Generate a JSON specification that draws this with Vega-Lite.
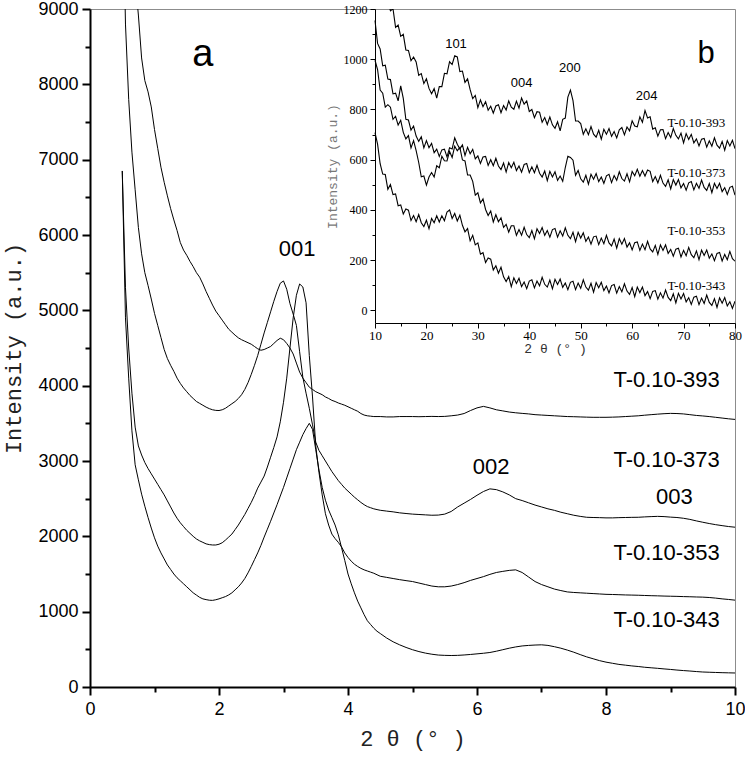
{
"$schema": "https://vega.github.io/schema/vega-lite/v6.json",
"width": 645, "height": 678,
"autosize": {"type": "none"},
"padding": {"left": 90, "top": 9, "right": 10, "bottom": 72},
"background": "white",
"config": {"view": {"stroke": "#8c8c8c", "strokeWidth": 1}, "axis": {"grid": false}},
"datasets": {
"main": [
{"t":0.5,"s393":11500,"s373":11000,"s353":6850,"s343":6850},
{"t":0.55,"s393":10900,"s373":8800,"s353":5300,"s343":4900},
{"t":0.6,"s393":10300,"s373":7800,"s353":4500,"s343":4100},
{"t":0.65,"s393":9850,"s373":7100,"s353":3900,"s343":3400},
{"t":0.7,"s393":9400,"s373":6600,"s353":3450,"s343":2950},
{"t":0.75,"s393":8920,"s373":6100,"s353":3200,"s343":2750},
{"t":0.8,"s393":8350,"s373":5750,"s353":3080,"s343":2560},
{"t":0.85,"s393":8050,"s373":5500,"s353":2980,"s343":2400},
{"t":0.9,"s393":7900,"s373":5330,"s353":2900,"s343":2250},
{"t":0.95,"s393":7700,"s373":5150,"s353":2830,"s343":2110},
{"t":1.0,"s393":7400,"s373":4960,"s353":2760,"s343":1980},
{"t":1.05,"s393":7150,"s373":4800,"s353":2690,"s343":1870},
{"t":1.1,"s393":6900,"s373":4640,"s353":2620,"s343":1780},
{"t":1.15,"s393":6700,"s373":4480,"s353":2550,"s343":1700},
{"t":1.2,"s393":6520,"s373":4360,"s353":2470,"s343":1620},
{"t":1.25,"s393":6350,"s373":4270,"s353":2390,"s343":1560},
{"t":1.3,"s393":6200,"s373":4190,"s353":2310,"s343":1500},
{"t":1.35,"s393":6060,"s373":4100,"s353":2240,"s343":1450},
{"t":1.4,"s393":5900,"s373":4030,"s353":2180,"s343":1410},
{"t":1.45,"s393":5800,"s373":3970,"s353":2130,"s343":1370},
{"t":1.5,"s393":5730,"s373":3920,"s353":2080,"s343":1330},
{"t":1.55,"s393":5650,"s373":3870,"s353":2040,"s343":1290},
{"t":1.6,"s393":5580,"s373":3830,"s353":2000,"s343":1250},
{"t":1.65,"s393":5500,"s373":3790,"s353":1965,"s343":1220},
{"t":1.7,"s393":5440,"s373":3765,"s353":1940,"s343":1190},
{"t":1.75,"s393":5350,"s373":3740,"s353":1920,"s343":1170},
{"t":1.8,"s393":5250,"s373":3715,"s353":1900,"s343":1160},
{"t":1.85,"s393":5160,"s373":3695,"s353":1890,"s343":1152},
{"t":1.9,"s393":5070,"s373":3680,"s353":1885,"s343":1150},
{"t":1.95,"s393":4990,"s373":3672,"s353":1885,"s343":1158},
{"t":2.0,"s393":4930,"s373":3670,"s353":1895,"s343":1170},
{"t":2.05,"s393":4870,"s373":3680,"s353":1915,"s343":1185},
{"t":2.1,"s393":4810,"s373":3700,"s353":1950,"s343":1200},
{"t":2.15,"s393":4750,"s373":3730,"s353":1990,"s343":1222},
{"t":2.2,"s393":4710,"s373":3760,"s353":2030,"s343":1250},
{"t":2.25,"s393":4670,"s373":3790,"s353":2090,"s343":1290},
{"t":2.3,"s393":4635,"s373":3830,"s353":2150,"s343":1330},
{"t":2.35,"s393":4610,"s373":3880,"s353":2220,"s343":1380},
{"t":2.4,"s393":4590,"s373":3950,"s353":2290,"s343":1440},
{"t":2.45,"s393":4570,"s373":4040,"s353":2370,"s343":1515},
{"t":2.5,"s393":4550,"s373":4150,"s353":2450,"s343":1600},
{"t":2.55,"s393":4520,"s373":4270,"s353":2540,"s343":1690},
{"t":2.6,"s393":4490,"s373":4400,"s353":2640,"s343":1780},
{"t":2.65,"s393":4470,"s373":4550,"s353":2720,"s343":1880},
{"t":2.7,"s393":4480,"s373":4700,"s353":2800,"s343":1990},
{"t":2.75,"s393":4500,"s373":4840,"s353":2920,"s343":2095},
{"t":2.8,"s393":4520,"s373":4980,"s353":3050,"s343":2200},
{"t":2.85,"s393":4560,"s373":5120,"s353":3180,"s343":2310},
{"t":2.9,"s393":4600,"s373":5250,"s353":3320,"s343":2420},
{"t":2.95,"s393":4630,"s373":5360,"s353":3520,"s343":2535},
{"t":3.0,"s393":4610,"s373":5390,"s353":3780,"s343":2650},
{"t":3.05,"s393":4560,"s373":5280,"s353":4100,"s343":2775},
{"t":3.1,"s393":4500,"s373":5090,"s353":4500,"s343":2900},
{"t":3.15,"s393":4420,"s373":4950,"s353":4900,"s343":3025},
{"t":3.2,"s393":4300,"s373":4800,"s353":5200,"s343":3150},
{"t":3.25,"s393":4180,"s373":4450,"s353":5350,"s343":3250},
{"t":3.3,"s393":4100,"s373":4110,"s353":5310,"s343":3350},
{"t":3.35,"s393":4040,"s373":3900,"s353":5100,"s343":3430},
{"t":3.4,"s393":3980,"s373":3700,"s353":4400,"s343":3500},
{"t":3.45,"s393":3950,"s373":3480,"s353":3850,"s343":3420},
{"t":3.5,"s393":3920,"s373":3250,"s353":3200,"s343":3150},
{"t":3.55,"s393":3900,"s373":3140,"s353":2850,"s343":2880},
{"t":3.6,"s393":3880,"s373":3070,"s353":2550,"s343":2650},
{"t":3.65,"s393":3850,"s373":3000,"s353":2300,"s343":2480},
{"t":3.7,"s393":3830,"s373":2930,"s353":2150,"s343":2350},
{"t":3.75,"s393":3805,"s373":2860,"s353":2030,"s343":2250},
{"t":3.8,"s393":3790,"s373":2800,"s353":1970,"s343":2150},
{"t":3.85,"s393":3770,"s373":2740,"s353":1920,"s343":2020},
{"t":3.9,"s393":3755,"s373":2690,"s353":1860,"s343":1850},
{"t":3.95,"s393":3740,"s373":2640,"s353":1780,"s343":1680},
{"t":4.0,"s393":3720,"s373":2600,"s353":1720,"s343":1500},
{"t":4.05,"s393":3700,"s373":2560,"s353":1670,"s343":1370},
{"t":4.1,"s393":3680,"s373":2520,"s353":1630,"s343":1250},
{"t":4.15,"s393":3660,"s373":2485,"s353":1600,"s343":1140},
{"t":4.2,"s393":3630,"s373":2450,"s353":1575,"s343":1050},
{"t":4.25,"s393":3610,"s373":2420,"s353":1555,"s343":960},
{"t":4.3,"s393":3600,"s373":2395,"s353":1540,"s343":880},
{"t":4.35,"s393":3595,"s373":2380,"s353":1525,"s343":830},
{"t":4.4,"s393":3590,"s373":2365,"s353":1510,"s343":780},
{"t":4.45,"s393":3590,"s373":2355,"s353":1490,"s343":740},
{"t":4.5,"s393":3590,"s373":2346,"s353":1470,"s343":710},
{"t":4.6,"s393":3585,"s373":2335,"s353":1455,"s343":650},
{"t":4.7,"s393":3585,"s373":2325,"s353":1440,"s343":600},
{"t":4.8,"s393":3590,"s373":2312,"s353":1425,"s343":560},
{"t":4.9,"s393":3590,"s373":2303,"s353":1412,"s343":525},
{"t":5.0,"s393":3590,"s373":2295,"s353":1400,"s343":495},
{"t":5.1,"s393":3588,"s373":2290,"s353":1380,"s343":470},
{"t":5.2,"s393":3590,"s373":2285,"s353":1360,"s343":450},
{"t":5.3,"s393":3592,"s373":2280,"s353":1340,"s343":435},
{"t":5.4,"s393":3590,"s373":2282,"s353":1330,"s343":424},
{"t":5.5,"s393":3592,"s373":2295,"s353":1330,"s343":420},
{"t":5.6,"s393":3600,"s373":2330,"s353":1340,"s343":418},
{"t":5.7,"s393":3610,"s373":2390,"s353":1360,"s343":420},
{"t":5.8,"s393":3630,"s373":2440,"s353":1385,"s343":425},
{"t":5.9,"s393":3670,"s373":2490,"s353":1415,"s343":432},
{"t":6.0,"s393":3705,"s373":2545,"s353":1440,"s343":440},
{"t":6.1,"s393":3725,"s373":2595,"s353":1465,"s343":448},
{"t":6.2,"s393":3705,"s373":2630,"s353":1495,"s343":458},
{"t":6.3,"s393":3680,"s373":2620,"s353":1520,"s343":475},
{"t":6.4,"s393":3665,"s373":2590,"s353":1535,"s343":495},
{"t":6.5,"s393":3650,"s373":2550,"s353":1548,"s343":515},
{"t":6.6,"s393":3640,"s373":2500,"s353":1555,"s343":532},
{"t":6.7,"s393":3632,"s373":2475,"s353":1520,"s343":545},
{"t":6.8,"s393":3625,"s373":2445,"s353":1460,"s343":552},
{"t":6.9,"s393":3615,"s373":2415,"s353":1400,"s343":557},
{"t":7.0,"s393":3610,"s373":2390,"s353":1360,"s343":560},
{"t":7.1,"s393":3605,"s373":2365,"s353":1330,"s343":552},
{"t":7.2,"s393":3600,"s373":2345,"s353":1300,"s343":535},
{"t":7.3,"s393":3595,"s373":2320,"s353":1280,"s343":515},
{"t":7.4,"s393":3590,"s373":2300,"s353":1262,"s343":490},
{"t":7.5,"s393":3588,"s373":2280,"s353":1255,"s343":462},
{"t":7.6,"s393":3585,"s373":2265,"s353":1250,"s343":430},
{"t":7.7,"s393":3582,"s373":2253,"s353":1245,"s343":400},
{"t":7.8,"s393":3580,"s373":2250,"s353":1240,"s343":375},
{"t":7.9,"s393":3580,"s373":2248,"s353":1235,"s343":350},
{"t":8.0,"s393":3580,"s373":2245,"s353":1230,"s343":330},
{"t":8.1,"s393":3582,"s373":2245,"s353":1228,"s343":315},
{"t":8.2,"s393":3585,"s373":2248,"s353":1225,"s343":300},
{"t":8.3,"s393":3590,"s373":2250,"s353":1222,"s343":290},
{"t":8.4,"s393":3595,"s373":2252,"s353":1220,"s343":280},
{"t":8.5,"s393":3600,"s373":2253,"s353":1218,"s343":272},
{"t":8.6,"s393":3608,"s373":2258,"s353":1215,"s343":262},
{"t":8.7,"s393":3615,"s373":2262,"s353":1212,"s343":255},
{"t":8.8,"s393":3622,"s373":2265,"s353":1210,"s343":248},
{"t":8.9,"s393":3628,"s373":2262,"s353":1207,"s343":240},
{"t":9.0,"s393":3632,"s373":2255,"s353":1205,"s343":233},
{"t":9.1,"s393":3630,"s373":2250,"s353":1203,"s343":225},
{"t":9.2,"s393":3625,"s373":2240,"s353":1200,"s343":218},
{"t":9.3,"s393":3615,"s373":2225,"s353":1198,"s343":212},
{"t":9.4,"s393":3605,"s373":2205,"s353":1195,"s343":205},
{"t":9.5,"s393":3598,"s373":2187,"s353":1193,"s343":199},
{"t":9.6,"s393":3590,"s373":2170,"s353":1188,"s343":196},
{"t":9.7,"s393":3580,"s373":2155,"s353":1180,"s343":193},
{"t":9.8,"s393":3570,"s373":2142,"s353":1170,"s343":190},
{"t":9.9,"s393":3560,"s373":2130,"s353":1162,"s343":188},
{"t":10.0,"s393":3552,"s373":2121,"s353":1153,"s343":186}
],
"inset": [
{"t":10,"s393":1514,"s373":1154,"s353":996,"s343":708},
{"t":10.5,"s393":1421,"s373":1063,"s353":959,"s343":662},
{"t":11,"s393":1388,"s373":1041,"s353":877,"s343":584},
{"t":11.5,"s393":1318,"s373":974,"s353":865,"s343":543},
{"t":12,"s393":1302,"s373":976,"s353":809,"s343":541},
{"t":12.5,"s393":1234,"s373":921,"s353":819,"s343":482},
{"t":13,"s393":1193,"s373":919,"s353":809,"s343":501},
{"t":13.5,"s393":1201,"s373":862,"s353":761,"s343":461},
{"t":14,"s393":1127,"s373":865,"s353":773,"s343":464},
{"t":14.5,"s393":1136,"s373":834,"s353":738,"s343":417},
{"t":15,"s393":1091,"s373":894,"s353":757,"s343":420},
{"t":15.5,"s393":1099,"s373":844,"s353":709,"s343":384},
{"t":16,"s393":1037,"s373":761,"s353":683,"s343":404},
{"t":16.5,"s393":1035,"s373":758,"s353":696,"s343":399},
{"t":17,"s393":994,"s373":718,"s353":647,"s343":358},
{"t":17.5,"s393":1009,"s373":734,"s353":676,"s343":378},
{"t":18,"s393":989,"s373":694,"s353":636,"s343":353},
{"t":18.5,"s393":936,"s373":673,"s353":589,"s343":382},
{"t":19,"s393":943,"s373":691,"s353":532,"s343":349},
{"t":19.5,"s393":903,"s373":647,"s353":535,"s343":334},
{"t":20,"s393":922,"s373":676,"s353":499,"s343":359},
{"t":20.5,"s393":884,"s373":648,"s353":531,"s343":325},
{"t":21,"s393":863,"s373":665,"s353":549,"s343":366},
{"t":21.5,"s393":883,"s373":628,"s353":531,"s343":349},
{"t":22,"s393":845,"s373":642,"s353":576,"s343":377},
{"t":22.5,"s393":891,"s373":613,"s353":568,"s343":352},
{"t":23,"s393":891,"s373":639,"s353":614,"s343":377},
{"t":23.5,"s393":944,"s373":642,"s353":596,"s343":357},
{"t":24,"s393":942,"s373":611,"s353":595,"s343":392},
{"t":24.5,"s393":990,"s373":648,"s353":633,"s343":400},
{"t":25,"s393":979,"s373":643,"s353":609,"s343":366},
{"t":25.5,"s393":1014,"s373":687,"s353":654,"s343":386},
{"t":26,"s393":1009,"s373":662,"s353":636,"s343":356},
{"t":26.5,"s393":951,"s373":643,"s353":649,"s343":379},
{"t":27,"s393":953,"s373":659,"s353":599,"s343":339},
{"t":27.5,"s393":908,"s373":617,"s353":595,"s343":313},
{"t":28,"s393":922,"s373":649,"s353":539,"s343":326},
{"t":28.5,"s393":879,"s373":624,"s353":539,"s343":277},
{"t":29,"s393":843,"s373":641,"s353":514,"s343":299},
{"t":29.5,"s393":856,"s373":603,"s353":459,"s343":261},
{"t":30,"s393":807,"s373":615,"s353":468,"s343":269},
{"t":30.5,"s393":838,"s373":585,"s353":428,"s343":224},
{"t":31,"s393":811,"s373":611,"s353":444,"s343":230},
{"t":31.5,"s393":831,"s373":613,"s353":402,"s343":191},
{"t":32,"s393":797,"s373":577,"s353":378,"s343":209},
{"t":32.5,"s393":813,"s373":600,"s353":396,"s343":204},
{"t":33,"s393":785,"s373":576,"s353":352,"s343":161},
{"t":33.5,"s393":814,"s373":606,"s353":381,"s343":178},
{"t":34,"s393":819,"s373":575,"s353":353,"s343":148},
{"t":34.5,"s393":787,"s373":561,"s353":369,"s343":172},
{"t":35,"s393":816,"s373":587,"s353":331,"s343":134},
{"t":35.5,"s393":798,"s373":551,"s353":343,"s343":115},
{"t":36,"s393":834,"s373":589,"s353":312,"s343":135},
{"t":36.5,"s393":809,"s373":568,"s353":337,"s343":95},
{"t":37,"s393":801,"s373":590,"s353":337,"s343":130},
{"t":37.5,"s393":833,"s373":557,"s353":299,"s343":107},
{"t":38,"s393":805,"s373":575,"s353":322,"s343":128},
{"t":38.5,"s393":846,"s373":550,"s353":299,"s343":95},
{"t":39,"s393":821,"s373":581,"s353":331,"s343":113},
{"t":39.5,"s393":834,"s373":585,"s353":302,"s343":87},
{"t":40,"s393":792,"s373":549,"s353":290,"s343":117},
{"t":40.5,"s393":800,"s373":572,"s353":318,"s343":122},
{"t":41,"s393":767,"s373":548,"s353":285,"s343":90},
{"t":41.5,"s393":791,"s373":578,"s353":325,"s343":117},
{"t":42,"s393":789,"s373":546,"s353":306,"s343":98},
{"t":42.5,"s393":749,"s373":531,"s353":330,"s343":132},
{"t":43,"s393":768,"s373":555,"s353":299,"s343":104},
{"t":43.5,"s393":740,"s373":517,"s353":318,"s343":93},
{"t":44,"s393":770,"s373":554,"s353":292,"s343":121},
{"t":44.5,"s393":739,"s373":531,"s353":322,"s343":86},
{"t":45,"s393":725,"s373":552,"s353":326,"s343":124},
{"t":45.5,"s393":751,"s373":518,"s353":292,"s343":103},
{"t":46,"s393":715,"s373":535,"s353":317,"s343":125},
{"t":46.5,"s393":761,"s373":514,"s353":296,"s343":92},
{"t":47,"s393":766,"s373":569,"s353":329,"s343":109},
{"t":47.5,"s393":849,"s373":614,"s353":299,"s343":83},
{"t":48,"s393":877,"s373":609,"s353":286,"s343":112},
{"t":48.5,"s393":835,"s373":598,"s353":311,"s343":116},
{"t":49,"s393":754,"s373":538,"s353":274,"s343":83},
{"t":49.5,"s393":754,"s373":557,"s353":311,"s343":109},
{"t":50,"s393":744,"s373":524,"s353":288,"s343":88},
{"t":50.5,"s393":701,"s373":511,"s353":309,"s343":122},
{"t":51,"s393":723,"s373":538,"s353":275,"s343":93},
{"t":51.5,"s393":700,"s373":503,"s353":292,"s343":81},
{"t":52,"s393":732,"s373":542,"s353":264,"s343":108},
{"t":52.5,"s393":702,"s373":522,"s353":293,"s343":73},
{"t":53,"s393":690,"s373":545,"s353":296,"s343":111},
{"t":53.5,"s393":717,"s373":513,"s353":262,"s343":90},
{"t":54,"s393":682,"s373":531,"s353":288,"s343":112},
{"t":54.5,"s393":721,"s373":506,"s353":266,"s343":79},
{"t":55,"s393":701,"s373":536,"s353":299,"s343":97},
{"t":55.5,"s393":724,"s373":542,"s353":269,"s343":70},
{"t":56,"s393":693,"s373":509,"s353":257,"s343":99},
{"t":56.5,"s393":712,"s373":537,"s353":284,"s343":103},
{"t":57,"s393":687,"s373":518,"s353":248,"s343":69},
{"t":57.5,"s393":719,"s373":552,"s353":286,"s343":95},
{"t":58,"s393":728,"s373":525,"s353":264,"s343":74},
{"t":58.5,"s393":699,"s373":515,"s353":286,"s343":106},
{"t":59,"s393":730,"s373":544,"s353":252,"s343":77},
{"t":59.5,"s393":715,"s373":512,"s353":269,"s343":64},
{"t":60,"s393":755,"s373":553,"s353":241,"s343":91},
{"t":60.5,"s393":734,"s373":536,"s353":270,"s343":55},
{"t":61,"s393":731,"s373":562,"s353":273,"s343":93},
{"t":61.5,"s393":771,"s373":534,"s353":239,"s343":71},
{"t":62,"s393":749,"s373":557,"s353":264,"s343":93},
{"t":62.5,"s393":796,"s373":535,"s353":242,"s343":59},
{"t":63,"s393":766,"s373":559,"s353":275,"s343":75},
{"t":63.5,"s393":771,"s373":554,"s353":245,"s343":47},
{"t":64,"s393":722,"s373":513,"s353":233,"s343":76},
{"t":64.5,"s393":727,"s373":533,"s353":259,"s343":79},
{"t":65,"s393":694,"s373":508,"s353":223,"s343":45},
{"t":65.5,"s393":719,"s373":538,"s353":261,"s343":70},
{"t":66,"s393":720,"s373":507,"s353":239,"s343":49},
{"t":66.5,"s393":684,"s373":494,"s353":261,"s343":81},
{"t":67,"s393":708,"s373":520,"s353":227,"s343":52},
{"t":67.5,"s393":688,"s373":484,"s353":243,"s343":39},
{"t":68,"s393":724,"s373":521,"s353":216,"s343":66},
{"t":68.5,"s393":697,"s373":499,"s353":244,"s343":30},
{"t":69,"s393":683,"s373":521,"s353":248,"s343":68},
{"t":69.5,"s393":706,"s373":488,"s353":213,"s343":46},
{"t":70,"s393":667,"s373":505,"s353":239,"s343":67},
{"t":70.5,"s393":704,"s373":479,"s353":218,"s343":34},
{"t":71,"s393":681,"s373":508,"s353":251,"s343":51},
{"t":71.5,"s393":701,"s373":513,"s353":222,"s343":24},
{"t":72,"s393":667,"s373":480,"s353":210,"s343":53},
{"t":72.5,"s393":683,"s373":506,"s353":237,"s343":57},
{"t":73,"s393":655,"s373":486,"s353":202,"s343":23},
{"t":73.5,"s393":682,"s373":519,"s353":240,"s343":49},
{"t":74,"s393":685,"s373":490,"s353":219,"s343":28},
{"t":74.5,"s393":650,"s373":478,"s353":241,"s343":61},
{"t":75,"s393":675,"s373":505,"s353":208,"s343":32},
{"t":75.5,"s393":654,"s373":469,"s353":225,"s343":20},
{"t":76,"s393":687,"s373":506,"s353":198,"s343":47},
{"t":76.5,"s393":658,"s373":485,"s353":227,"s343":12},
{"t":77,"s393":646,"s373":506,"s353":231,"s343":50},
{"t":77.5,"s393":673,"s373":473,"s353":197,"s343":29},
{"t":78,"s393":638,"s373":489,"s353":223,"s343":51},
{"t":78.5,"s393":676,"s373":462,"s353":202,"s343":18},
{"t":79,"s393":655,"s373":490,"s353":235,"s343":35},
{"t":79.5,"s393":677,"s373":494,"s353":206,"s343":8},
{"t":80,"s393":644,"s373":459,"s353":196,"s343":37}
],
"mainLabels": [
{"x":3.21,"y":5819,"label":"001","kind":"peak"},
{"x":6.22,"y":2916,"label":"002","kind":"peak"},
{"x":9.06,"y":2518,"label":"003","kind":"peak"},
{"x":8.94,"y":4069,"label":"T-0.10-393","kind":"series"},
{"x":8.94,"y":3009,"label":"T-0.10-373","kind":"series"},
{"x":8.94,"y":1776,"label":"T-0.10-353","kind":"series"},
{"x":8.94,"y":888,"label":"T-0.10-343","kind":"series"},
{"x":1.75,"y":8390,"label":"a","kind":"panel"}
],
"insetLabels": [
{"x":25.75,"y":1060,"label":"101","kind":"peak"},
{"x":38.5,"y":907,"label":"004","kind":"peak"},
{"x":47.9,"y":967,"label":"200","kind":"peak"},
{"x":62.8,"y":853,"label":"204","kind":"peak"},
{"x":72.5,"y":747,"label":"T-0.10-393","kind":"series"},
{"x":72.5,"y":548,"label":"T-0.10-373","kind":"series"},
{"x":72.5,"y":315,"label":"T-0.10-353","kind":"series"},
{"x":72.5,"y":96,"label":"T-0.10-343","kind":"series"},
{"x":74.4,"y":1021,"label":"b","kind":"panel"}
]
},
"layer": [
{
"data": {"name": "main"},
"transform": [{"fold": ["s393","s373","s353","s343"], "as": ["series","intensity"]}],
"mark": {"type": "line", "clip": true, "color": "black", "strokeWidth": 1},
"encoding": {
"x": {"field": "t", "type": "quantitative", "scale": {"domain": [0,10], "nice": false, "zero": false},
 "axis": {"orient": "bottom", "values": [0,2,4,6,8,10], "title": "2 θ (° )", "titleFont": "Liberation Mono", "titleFontSize": 22, "titleFontWeight": "normal", "titleColor": "#222", "titlePadding": 10,
 "labelFont": "Liberation Sans", "labelFontSize": 18, "labelColor": "#000", "labelPadding": 5, "labelFlush": false, "labelOverlap": false,
 "domainColor": "#000", "domainWidth": 2, "tickColor": "#000", "tickWidth": 2, "tickSize": 8, "grid": false}},
"y": {"field": "intensity", "type": "quantitative", "scale": {"domain": [0,9000], "nice": false, "zero": false},
 "axis": {"orient": "left", "values": [0,1000,2000,3000,4000,5000,6000,7000,8000,9000], "format": "d", "title": "Intensity (a.u.)", "titleFont": "Liberation Mono", "titleFontSize": 22, "titleFontWeight": "normal", "titleColor": "#222", "titlePadding": 12,
 "labelFont": "Liberation Sans", "labelFontSize": 18, "labelColor": "#000", "labelPadding": 4, "labelFlush": false, "labelOverlap": false,
 "domainColor": "#000", "domainWidth": 2, "tickColor": "#000", "tickWidth": 2, "tickSize": 8, "grid": false}},
"detail": {"field": "series"}
}
},
{
"data": {"name": "mainLabels"},
"transform": [{"filter": "datum.kind != 'panel'"}],
"mark": {"type": "text", "font": "Liberation Sans", "fontSize": 22, "align": "center", "baseline": "middle", "color": "black"},
"encoding": {
"x": {"field": "x", "type": "quantitative", "scale": {"domain": [0,10], "nice": false, "zero": false},
 "axis": {"orient": "bottom", "values": [1,3,5,7,9], "labels": false, "domain": false, "title": null, "tickSize": 5, "tickWidth": 2, "tickColor": "#000", "grid": false}},
"y": {"field": "y", "type": "quantitative", "scale": {"domain": [0,9000], "nice": false, "zero": false},
 "axis": {"orient": "left", "values": [500,1500,2500,3500,4500,5500,6500,7500,8500], "labels": false, "domain": false, "title": null, "tickSize": 5, "tickWidth": 2, "tickColor": "#000", "grid": false}},
"text": {"field": "label"}
}
},
{
"data": {"name": "mainLabels"},
"transform": [{"filter": "datum.kind == 'panel'"}],
"mark": {"type": "text", "font": "Liberation Sans", "fontSize": 38, "align": "center", "baseline": "middle", "color": "black"},
"encoding": {
"x": {"field": "x", "type": "quantitative", "scale": {"domain": [0,10], "nice": false, "zero": false}, "axis": null},
"y": {"field": "y", "type": "quantitative", "scale": {"domain": [0,9000], "nice": false, "zero": false}, "axis": null},
"text": {"field": "label"}
}
},
{
"data": {"name": "inset"},
"transform": [{"fold": ["s393","s373","s353","s343"], "as": ["series","intensity"]}],
"mark": {"type": "line", "clip": true, "color": "black", "strokeWidth": 1.1},
"encoding": {
"x": {"field": "t", "type": "quantitative", "scale": {"domain": [10,80], "range": [285,645], "nice": false, "zero": false},
 "axis": {"orient": "bottom", "offset": -364, "values": [10,20,30,40,50,60,70,80], "title": "2 θ (° )", "titleFont": "Liberation Mono", "titleFontSize": 13, "titleFontWeight": "normal", "titleColor": "#333", "titlePadding": 0,
 "labelFont": "Liberation Serif", "labelFontSize": 13, "labelColor": "#000", "labelPadding": 1, "labelFlush": false, "labelOverlap": false,
 "domainColor": "#000", "domainWidth": 1, "tickColor": "#000", "tickWidth": 1, "tickSize": 5, "grid": false}},
"y": {"field": "intensity", "type": "quantitative", "scale": {"domain": [-50,1200], "range": [314,0], "nice": false, "zero": false},
 "axis": {"orient": "left", "offset": -285, "values": [0,200,400,600,800,1000,1200], "format": "d", "title": "Intensity (a.u.)", "titleFont": "Liberation Mono", "titleFontSize": 13, "titleFontWeight": "normal", "titleColor": "#777", "titlePadding": 4,
 "labelFont": "Liberation Serif", "labelFontSize": 12, "labelColor": "#000", "labelPadding": 3, "labelFlush": false, "labelOverlap": false,
 "domainColor": "#000", "domainWidth": 1, "tickColor": "#000", "tickWidth": 1, "tickSize": 5, "grid": false}},
"detail": {"field": "series"}
}
},
{
"data": {"name": "insetLabels"},
"transform": [{"filter": "datum.kind == 'peak'"}],
"mark": {"type": "text", "font": "Liberation Sans", "fontSize": 13, "align": "center", "baseline": "middle", "color": "black"},
"encoding": {
"x": {"field": "x", "type": "quantitative", "scale": {"domain": [10,80], "range": [285,645], "nice": false, "zero": false},
 "axis": {"orient": "bottom", "offset": -364, "values": [15,25,35,45,55,65,75], "labels": false, "domain": false, "title": null, "tickSize": 3, "tickWidth": 1, "tickColor": "#000", "grid": false}},
"y": {"field": "y", "type": "quantitative", "scale": {"domain": [-50,1200], "range": [314,0], "nice": false, "zero": false},
 "axis": {"orient": "left", "offset": -285, "values": [100,300,500,700,900,1100], "labels": false, "domain": false, "title": null, "tickSize": 3, "tickWidth": 1, "tickColor": "#000", "grid": false}},
"text": {"field": "label"}
}
},
{
"data": {"name": "insetLabels"},
"transform": [{"filter": "datum.kind == 'series'"}],
"mark": {"type": "text", "font": "Liberation Serif", "fontSize": 13, "align": "center", "baseline": "middle", "color": "black"},
"encoding": {
"x": {"field": "x", "type": "quantitative", "scale": {"domain": [10,80], "range": [285,645], "nice": false, "zero": false}, "axis": null},
"y": {"field": "y", "type": "quantitative", "scale": {"domain": [-50,1200], "range": [314,0], "nice": false, "zero": false}, "axis": null},
"text": {"field": "label"}
}
},
{
"data": {"name": "insetLabels"},
"transform": [{"filter": "datum.kind == 'panel'"}],
"mark": {"type": "text", "font": "Liberation Sans", "fontSize": 31, "align": "center", "baseline": "middle", "color": "black"},
"encoding": {
"x": {"field": "x", "type": "quantitative", "scale": {"domain": [10,80], "range": [285,645], "nice": false, "zero": false}, "axis": null},
"y": {"field": "y", "type": "quantitative", "scale": {"domain": [-50,1200], "range": [314,0], "nice": false, "zero": false}, "axis": null},
"text": {"field": "label"}
}
}
],
"resolve": {"scale": {"x": "independent", "y": "independent"}, "axis": {"x": "independent", "y": "independent"}}
}
